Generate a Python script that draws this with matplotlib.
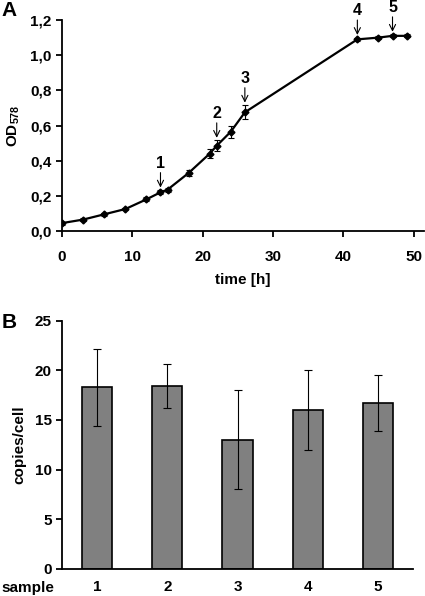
import matplotlib
matplotlib.use('Agg')
import matplotlib.pyplot as plt

# Panel A: growth curve
time_h = [0, 3, 6, 9, 12, 14, 15, 18, 21, 22, 24, 26, 42, 45, 47, 49]
od578 = [0.045, 0.065, 0.095, 0.125, 0.18, 0.22, 0.235, 0.33, 0.44, 0.485, 0.565, 0.675, 1.09, 1.10, 1.11, 1.11]
od_err = [0.008, 0.008, 0.008, 0.008, 0.012, 0.012, 0.012, 0.015, 0.025, 0.03, 0.035, 0.04, 0.01, 0.008, 0.008, 0.008]
sample_labels = ['1', '2', '3', '4', '5']
sample_times = [14, 22, 26, 42, 47]

# Panel B: copy number per sample
copies = [18.3, 18.4, 13.0, 16.0, 16.7]
copies_err = [3.9, 2.2, 5.0, 4.0, 2.8]

plt.rcParams['font.family'] = ['Liberation Sans', 'DejaVu Sans']
plt.rcParams['font.weight'] = 'bold'
plt.rcParams['font.size'] = 11
plt.rcParams['mathtext.fontset'] = 'custom'
plt.rcParams['mathtext.rm'] = 'Liberation Sans:bold'
plt.rcParams['mathtext.bf'] = 'Liberation Sans:bold'

fig = plt.figure(figsize=(4.25, 5.96), dpi=100)

# ---- A ----
ax1 = fig.add_axes([0.146, 0.6124, 0.852, 0.354])
ax1.errorbar(time_h, od578, yerr=od_err, color='black', marker='D', markersize=3.5,
             lw=1.6, elinewidth=0.8, capsize=2.5, capthick=0.8)
ax1.set_xlim(0, 51.5)
ax1.set_ylim(0, 1.2)
ax1.set_xticks([0, 10, 20, 30, 40, 50])
ax1.set_yticks([0, 0.2, 0.4, 0.6, 0.8, 1.0, 1.2])
ax1.set_yticklabels(['0,0', '0,2', '0,4', '0,6', '0,8', '1,0', '1,2'])
for s in ['top', 'right']:
    ax1.spines[s].set_visible(False)
ax1.spines['left'].set_linewidth(1.3)
ax1.spines['bottom'].set_linewidth(1.3)
ax1.tick_params(direction='out', length=4, width=1.3, labelsize=11)
ax1.tick_params(axis='x', pad=10)
ax1.set_xlabel('time [h]', fontsize=11, fontweight='bold', labelpad=6)
ax1.set_ylabel(r'OD$_{578}$', fontsize=11, fontweight='bold', labelpad=6)

for lab, t in zip(sample_labels, sample_times):
    i = time_h.index(t)
    y = od578[i] + od_err[i]
    ax1.annotate('', xy=(t, y + 0.015), xytext=(t, y + 0.10),
                 arrowprops=dict(arrowstyle='->', color='black', lw=0.8,
                                 shrinkA=0, shrinkB=0), annotation_clip=False)
    ax1.text(t, y + 0.11, lab, ha='center', va='bottom', fontsize=11.5,
             fontweight='bold', clip_on=False)

fig.text(0.003, 0.998, 'A', fontsize=15, fontweight='bold', va='top', ha='left')

# ---- B ----
ax2 = fig.add_axes([0.146, 0.0458, 0.826, 0.416])
xpos = range(len(copies))
ax2.bar(xpos, copies, width=0.43, color='#808080', edgecolor='black', linewidth=1.2)
ax2.errorbar(xpos, copies, yerr=copies_err, fmt='none', ecolor='black',
             elinewidth=0.8, capsize=3, capthick=0.8)
ax2.set_xlim(-0.5, 4.5)
ax2.set_ylim(0, 25)
ax2.set_yticks([0, 5, 10, 15, 20, 25])
ax2.set_xticks(list(xpos))
ax2.set_xticklabels(sample_labels)
for s in ['top', 'right']:
    ax2.spines[s].set_visible(False)
ax2.spines['left'].set_linewidth(1.3)
ax2.spines['bottom'].set_linewidth(1.3)
ax2.tick_params(axis='y', direction='out', length=4, width=1.3, labelsize=11)
ax2.tick_params(axis='x', length=0, labelsize=11, pad=8)
ax2.set_ylabel('copies/cell', fontsize=11, fontweight='bold', labelpad=6)
fig.text(0.003, 0.0134, 'sample', fontsize=11, fontweight='bold', va='center', ha='left')

fig.text(0.003, 0.475, 'B', fontsize=15, fontweight='bold', va='top', ha='left')

plt.savefig('out.png', dpi=100)
